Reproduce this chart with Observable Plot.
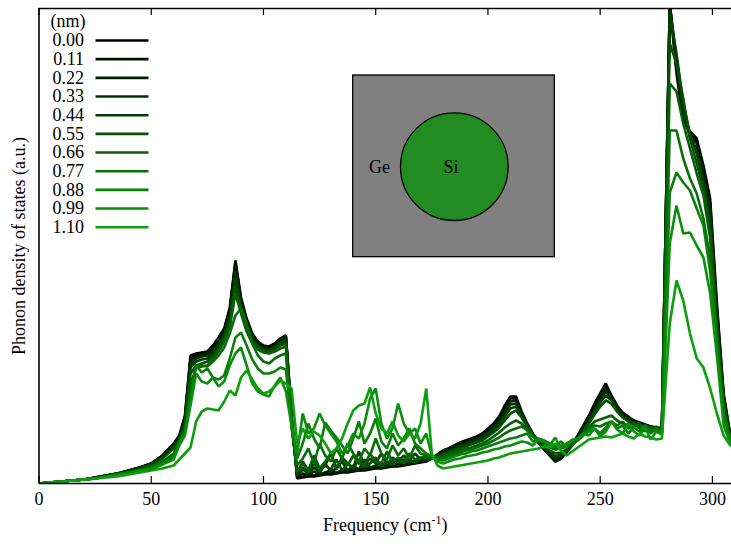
<!DOCTYPE html>
<html>
<head>
<meta charset="utf-8">
<script src="https://cdn.jsdelivr.net/npm/d3@7"></script>
<script src="https://cdn.jsdelivr.net/npm/@observablehq/plot@0.6"></script>
<style>
  html, body { margin: 0; padding: 0; background: #fff; }
  #chart svg { display: block; }
</style>
</head>
<body>
<div id="chart"></div>
<script>
// ---------------- data ----------------
const sizes = ["0.00","0.11","0.22","0.33","0.44","0.55","0.66","0.77","0.88","0.99","1.10"];
const xTicks = [0, 50, 100, 150, 200, 250, 300];

const freq = [0,5,10,15,20,25,30,35,40,45,50,55,60,
  62.5,65,67.5,70,72.5,75,77.5,80,82.5,85,87.5,90,92.5,95,97.5,100,102.5,105,107.5,110,112.5,
  115,117.5,120,122.5,125,127.5,130,132.5,135,137.5,140,142.5,145,147.5,150,152.5,155,157.5,160,162.5,165,167.5,170,172.5,175,177.5,
  180,182.5,185,187.5,190,192.5,195,197.5,200,202.5,205,207.5,210,212.5,215,217.5,220,222.5,225,227.5,230,232.5,235,237.5,240,242.5,245,247.5,250,252.5,255,257.5,260,262.5,265,267.5,270,272.5,275,277.5,
  281,284,287,290,293,296,299,302,305,308];

const dos_000 = [0,1,2,3,4,6,8,10,13,16,20,28,40,
  48,68,128,130,131,132,138,146,155,176,223,186,165,150,142,138,137,140,145,148,70,
  5,6,7,7,8,9,9,10,11,11,12,13,13,14,15,15,16,17,17,18,19,20,21,22,25,29,
  33,35,38,41,43,45,47,50,55,60,67,78,87,87,72,60,50,42,35,29,22,25,32,40,48,58,68,80,90,100,88,78,71,67,63,61,59,57,56,55,
  480,410,362,352,345,318,285,180,90,48];
const dos_011 = [0,1,2,3,4,6,8,10,13,16,20,28,39,
  47,66,126,129,130,131,136,144,154,174,221,184,163,149,141,137,136,139,144,147,68,
  6,7,9,8,9,10,10,11,12,12,13,13,14,15,16,16,17,17,18,19,20,21,22,23,25,29,
  33,35,38,40,42,44,46,49,54,59,66,76,85,85,71,59,49,41,34,28,22,25,31,39,47,57,67,78,88,98,87,77,70,66,62,60,58,57,56,55,
  480,415,365,350,343,315,280,175,88,47];
const dos_022 = [0,1,2,3,4,6,8,10,13,16,20,27,38,
  46,64,124,127,129,130,134,142,152,171,217,182,161,148,140,136,135,138,143,146,66,
  7,10,8,12,9,11,13,10,14,12,15,13,16,15,17,16,18,17,19,20,20,22,22,24,25,28,
  32,34,37,39,41,43,45,48,52,57,64,73,82,83,70,58,48,41,34,29,24,26,31,38,46,55,65,76,86,95,86,76,69,65,62,59,58,56,55,54,
  480,420,370,348,340,312,275,170,86,46];
const dos_033 = [0,1,2,3,4,6,8,10,12,15,19,27,37,
  45,62,120,125,127,128,132,140,150,168,212,180,159,147,139,135,134,137,142,145,64,
  8,14,10,16,11,20,12,15,22,13,18,14,24,16,18,21,17,23,19,24,21,23,24,25,26,28,
  31,33,36,38,40,42,44,47,51,55,62,70,79,80,69,58,48,41,35,30,25,27,32,38,45,54,63,74,84,92,85,75,68,64,61,59,57,56,55,54,
  478,425,375,345,335,305,268,165,84,46];
const dos_044 = [0,1,2,3,4,5,7,10,12,15,19,26,36,
  44,60,116,122,124,125,130,138,148,164,206,178,157,145,137,134,133,136,140,143,62,
  10,22,12,28,15,18,30,14,26,20,16,32,18,25,20,30,19,26,22,28,23,30,24,27,26,28,
  30,32,34,36,38,40,42,45,49,53,59,67,75,77,68,58,49,42,36,31,27,29,33,38,45,53,62,72,81,88,83,74,67,63,60,58,57,56,55,54,
  470,430,380,350,330,300,262,160,82,45];
const dos_055 = [0,1,2,3,4,5,7,9,12,15,19,25,35,
  43,58,110,118,120,122,127,135,145,160,198,174,154,142,136,133,132,134,138,140,60,
  10,16,11,20,12,18,14,24,13,20,15,24,16,20,26,17,22,19,25,20,24,21,25,24,26,27,
  29,31,33,35,37,39,41,43,47,51,56,63,70,73,66,57,49,43,37,33,30,31,34,38,44,52,60,69,77,83,80,72,66,62,59,57,58,55,56,54,
  440,420,385,345,320,295,255,155,80,45];
const dos_066 = [0,1,2,3,4,5,7,9,12,14,17,22,30,
  42,55,100,115,117,118,124,132,142,156,190,170,152,140,134,131,130,132,135,137,58,
  12,20,14,25,15,22,30,16,24,18,28,20,18,30,22,20,32,22,26,20,30,24,26,27,26,27,
  27,29,31,33,35,36,38,40,43,47,51,56,60,63,60,54,48,44,40,36,34,35,37,40,44,50,56,62,64,66,68,63,60,58,60,55,58,53,57,52,
  400,392,360,335,310,288,245,150,75,44];
const dos_077 = [0,1,2,3,4,5,7,9,11,13,16,21,28,
  41,52,90,118,118,117,122,128,136,150,168,175,160,140,128,122,120,125,128,130,56,
  18,25,35,20,40,28,22,35,25,40,30,22,35,28,45,30,24,38,28,35,25,38,30,28,26,26,
  25,27,29,31,33,34,36,38,40,43,46,50,53,55,57,53,47,44,42,38,36,38,37,42,45,50,55,58,57,60,62,58,62,55,57,60,52,56,53,51,
  353,353,325,305,290,265,225,145,72,43];
const dos_088 = [0,1,2,3,4,5,7,9,11,13,15,20,26,
  40,50,85,118,111,115,106,104,108,125,146,151,138,124,115,110,110,112,116,114,60,
  25,40,60,45,35,61,53,46,38,30,45,62,40,50,65,42,35,50,38,45,55,40,35,30,27,24,
  23,25,27,29,30,32,33,35,37,39,41,43,45,46,48,50,42,45,43,40,38,42,36,44,43,48,52,55,50,56,62,55,58,50,56,52,58,50,55,50,
  291,311,301,293,275,258,212,138,65,42];
const dos_099 = [0,1,2,3,4,5,7,8,10,12,14,19,24,
  38,48,78,110,102,100,106,97,102,118,130,136,118,100,92,89,87,98,106,92,58,
  30,70,50,55,70,58,50,42,30,38,50,45,60,85,95,60,45,55,80,60,50,55,40,50,28,22,
  20,22,24,25,27,28,29,31,32,34,35,37,38,40,42,41,38,44,42,38,46,35,40,43,45,50,48,55,47,52,62,54,50,60,52,48,56,44,52,49,
  240,278,250,251,238,226,190,128,58,40];
const dos_110 = [0,1,2,3,4,5,6,7,9,11,13,15,18,
  24,30,36,62,72,75,74,73,82,93,88,106,113,104,95,90,92,97,103,100,95,
  40,55,45,52,48,40,30,35,45,60,73,78,80,96,70,55,50,62,48,42,50,45,60,95,30,18,
  15,16,17,18,19,20,21,22,23,25,26,28,30,31,32,33,34,35,37,36,40,33,28,32,36,40,44,45,46,47,46,48,50,47,45,50,47,46,44,45,
  160,203,183,150,125,116,95,70,48,38];

const seriesValues = [dos_000,dos_011,dos_022,dos_033,dos_044,dos_055,dos_066,dos_077,dos_088,dos_099,dos_110];

// ---------------- layout / style ----------------
const W = 731, H = 545;
const mL = 38.5, mR = 0, mT = 8, mB = 62;
const xMax = 308.5, yMax = 475;
const font = "'Liberation Serif', 'Times New Roman', serif";
const colors = sizes.map((_, i) => d3.interpolateRgb("#000000", "#0c9e0c")(i / (sizes.length - 1)));

// pixel -> data helpers for the decorative legend / inset placement
const px2x = d3.scaleLinear([mL, W - mR], [0, xMax]);
const py2y = d3.scaleLinear([H - mB, mT], [0, yMax]);

const rows = [];
seriesValues.forEach((vals, k) => {
  freq.forEach((f, i) => { if (vals[i] != null) rows.push({f, v: vals[i], size: sizes[k]}); });
});

const legendRows = sizes.map((s, i) => ({size: s, py: 40 + 18.67 * i}));

const plot = Plot.plot({
  width: W, height: H,
  marginLeft: mL, marginRight: mR, marginTop: mT, marginBottom: mB,
  style: {fontFamily: font, fontSize: "18px", color: "black", background: "white"},
  x: {domain: [0, xMax], axis: null},
  y: {domain: [0, yMax], axis: null},
  color: {domain: sizes, range: colors},
  marks: [
    // inset
    Plot.rect([0], {x1: px2x(352.7), x2: px2x(554.3), y1: py2y(256.7), y2: py2y(75), fill: "#808080", stroke: "black", strokeWidth: 1.3}),
    Plot.dot([0], {x: px2x(453.8), y: py2y(166.2), r: 53.8, fill: "#228b22", stroke: "black", strokeWidth: 1.3}),
    Plot.text(["Ge"], {x: px2x(379), y: py2y(167), text: d => d, fontSize: 18, fill: "black"}),
    Plot.text(["Si"], {x: px2x(450.5), y: py2y(167), text: d => d, fontSize: 18, fill: "black"}),
    // data lines
    Plot.line(rows, {x: "f", y: "v", z: "size", stroke: "size", strokeWidth: 2.6, strokeLinejoin: "miter", clip: true}),
    // frame (left, bottom, top)
    Plot.ruleX([0], {stroke: "black", strokeWidth: 1.6}),
    Plot.ruleY([0, yMax], {stroke: "black", strokeWidth: 1.6}),
    // inward ticks, bottom and top
    Plot.ruleX(xTicks, {x: d => d, y1: 0, y2: 7, stroke: "black", strokeWidth: 1.2}),
    Plot.ruleX(xTicks, {x: d => d, y1: yMax - 7, y2: yMax, stroke: "black", strokeWidth: 1.2}),
    Plot.axisX(xTicks, {tickSize: 0, tickPadding: 9, fontSize: 18, label: null, tickFormat: d => String(d)}),
    // axis titles
    Plot.text(["Frequency (cm-1)"], {frameAnchor: "bottom", dy: 47, text: d => d, fontSize: 18, fill: "black"}),
    Plot.text(["Phonon density of states (a.u.)"], {frameAnchor: "left", dx: -20, rotate: -90, textAnchor: "middle", text: d => d, fontSize: 18, fill: "black"}),
    // legend
    Plot.text(["(nm)"], {x: px2x(50), y: py2y(21), text: d => d, textAnchor: "start", fontSize: 18, fill: "black"}),
    Plot.text(legendRows, {x: px2x(83.5), y: d => py2y(d.py), text: "size", textAnchor: "end", fontSize: 18, fill: "black"}),
    Plot.link(legendRows, {x1: px2x(95), x2: px2x(148), y1: d => py2y(d.py), y2: d => py2y(d.py), stroke: "size", strokeWidth: 2.6})
  ]
});

// superscript for cm^-1
d3.select(plot).selectAll("text").filter(function () { return this.textContent === "Frequency (cm-1)"; })
  .html('Frequency (cm<tspan dy="-7" font-size="12">-1</tspan><tspan dy="7">)</tspan>');

document.getElementById("chart").appendChild(plot);
</script>
</body>
</html>
